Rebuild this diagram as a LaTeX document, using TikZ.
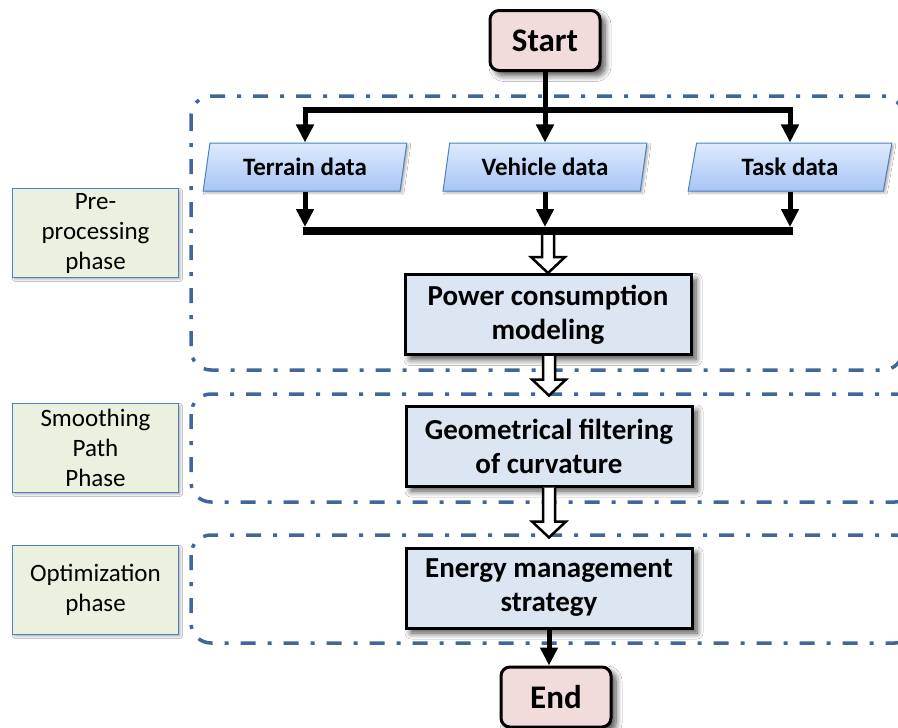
\documentclass[tikz,border=0pt]{standalone}
\usepackage{fontspec}
\setmainfont{Carlito}
\usetikzlibrary{shapes.geometric,shadows.blur,arrows.meta,calc}
\definecolor{frameblue}{RGB}{65,103,154}
\definecolor{termpink}{RGB}{242,220,219}
\definecolor{procblue}{RGB}{220,230,242}
\definecolor{labelgreen}{RGB}{235,241,222}
\definecolor{edgeblue}{RGB}{79,129,189}
\definecolor{datatop}{RGB}{222,234,253}
\definecolor{databot}{RGB}{166,197,246}
\tikzset{
  term/.style={draw, line width=3pt, rounded corners=9pt, fill=termpink, inner sep=0pt,
    font=\bfseries\fontsize{33}{38}\selectfont, minimum width=110pt, minimum height=60pt,
    blur shadow={shadow xshift=5pt, shadow yshift=-5pt, shadow blur steps=8, shadow blur radius=6pt, shadow opacity=70}},
  datashape/.style={trapezium, trapezium left angle=76, trapezium right angle=104,
    trapezium stretches=true, minimum width=204pt, minimum height=48pt, inner sep=0pt,
    draw=edgeblue, line width=1pt, top color=datatop, bottom color=databot,
    font=\bfseries\fontsize{25}{29}\selectfont,
    blur shadow={shadow xshift=2pt, shadow yshift=-2pt, shadow blur steps=4, shadow opacity=30}},
  proc/.style={draw, line width=3pt, fill=procblue, minimum width=286pt, minimum height=80pt,
    inner sep=0pt, align=center, font=\bfseries\fontsize{29}{34}\selectfont,
    blur shadow={shadow xshift=5pt, shadow yshift=-5pt, shadow blur steps=8, shadow blur radius=6pt, shadow opacity=70}},
  phase/.style={draw=edgeblue, line width=1.5pt, fill=labelgreen, minimum width=166pt,
    minimum height=89pt, inner sep=0pt, align=center, font=\fontsize{25}{30}\selectfont,
    blur shadow={shadow xshift=2pt, shadow yshift=-2pt, shadow blur steps=4, shadow opacity=30}},
  phaseframe/.style={draw=frameblue, line width=3.5pt, rounded corners=20pt,
    dash pattern=on 15pt off 12pt on 4pt off 12pt},
  flow/.style={line width=5pt, -{Triangle[width=17pt,length=18pt]}},
  hollow/.style={draw=black, line width=2.5pt, fill=white, line join=miter},
}
\newcommand\hollowarrow[2]{%
  \draw[hollow] let \p1=(#1), \p2=(#2) in
  (\x2-6pt,\y1) -- (\x2-6pt,\y2+16pt) -- (\x2-17pt,\y2+16pt) -- (\x2,\y2)
  -- (\x2+17pt,\y2+16pt) -- (\x2+6pt,\y2+16pt) -- (\x2+6pt,\y1);}
\begin{document}
\begin{tikzpicture}[x=1pt,y=-1pt]
\useasboundingbox[fill=white] (0,0) rectangle (898,728);

% phase frames
\draw[phaseframe] (191,96) rectangle (903,370);
\draw[phaseframe] (191,394) rectangle (915,502);
\draw[phaseframe] (191,535) rectangle (915,643);

% phase labels
\node[phase] (lab1) at (95.5,233) {Pre-\\processing\\phase};
\node[phase] (lab2) at (95.5,448) {Smoothing\\Path\\Phase};
\node[phase] (lab3) at (95.5,590) {Optimization\\phase};

% nodes
\node[term] (start) at (545,40.5) {Start};
\node[datashape] (terrain) at (305,167) {Terrain data};
\node[datashape] (vehicle) at (545,167) {Vehicle data};
\node[datashape] (task) at (790,167) {Task data};
\node[proc] (power) at (548,314.5) {Power consumption\\modeling};
\node[proc] (geo) at (549,446) {Geometrical filtering\\of curvature};
\node[proc] (energy) at (549,588) {Energy management\\strategy};
\node[term] (end) at (556,697) {End};

\coordinate (ytop) at (0,110);
\coordinate (ybot) at (0,231);
\coordinate (ybotend) at (0,227);
\coordinate (ybar) at (0,235);

% distribution
\draw[line width=5pt] (start.south) -- (start.south |- ytop);
\draw[line width=6pt] ($(terrain.north |- ytop)+(-2.5,0)$) -- ($(task.north |- ytop)+(2.5,0)$);
\draw[flow] (terrain.north |- ytop) -- (terrain.north);
\draw[flow] (vehicle.north |- ytop) -- (vehicle.north);
\draw[flow] (task.north |- ytop) -- (task.north);

% collection
\draw[flow] (terrain.south) -- (terrain.south |- ybotend);
\draw[flow] (vehicle.south) -- (vehicle.south |- ybotend);
\draw[flow] (task.south) -- (task.south |- ybotend);
\draw[line width=8pt] ($(terrain.south |- ybot)+(-2.5,0)$) -- ($(task.south |- ybot)+(2.5,0)$);

% hollow arrows
\coordinate (h1top) at (power.north |- ybar);
\hollowarrow{h1top}{power.north}
\coordinate (h2tip) at ($(geo.north)+(0,-9)$);
\hollowarrow{power.south}{h2tip}
\coordinate (h3tip) at ($(energy.north)+(0,-9)$);
\hollowarrow{geo.south}{h3tip}

% to end
\draw[flow] (energy.south) -- (energy.south |- end.north);
\end{tikzpicture}
\end{document}
